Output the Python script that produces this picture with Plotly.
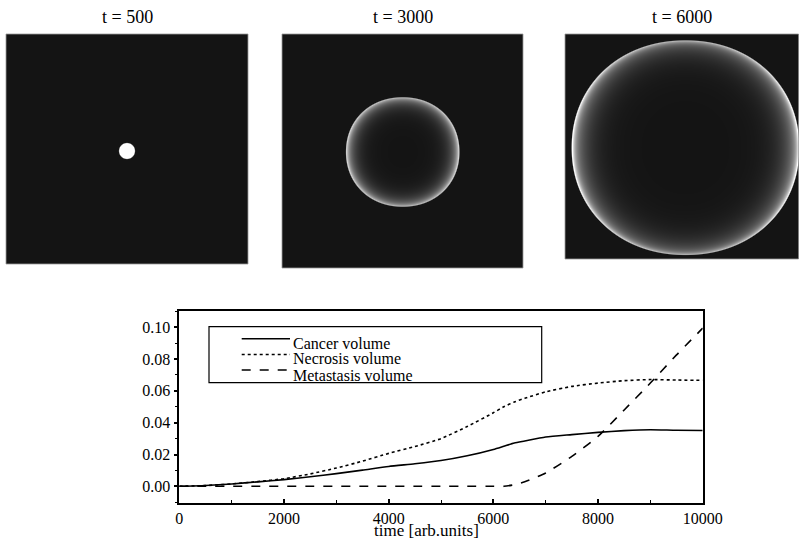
import numpy as np
import plotly.graph_objects as go

# ---------------- data ----------------
time = [0, 500, 1000, 1500, 2000, 2500, 3000, 3500, 4000, 4500, 5000, 5500,
        6000, 6200, 6400, 6600, 7000, 7500, 8000, 8500, 9000, 9500, 10000]
cancer = [0.0, 0.0005, 0.0015, 0.0028, 0.0042, 0.006, 0.008, 0.0102, 0.0125,
          0.0142, 0.0162, 0.0192, 0.0232, 0.0252, 0.0272, 0.0285, 0.031,
          0.0325, 0.0339, 0.035, 0.0356, 0.0352, 0.0351]
necrosis = [0.0, 0.0005, 0.0015, 0.003, 0.0048, 0.0078, 0.0115, 0.0158, 0.0207,
            0.025, 0.030, 0.0376, 0.0462, 0.050, 0.053, 0.0553, 0.0594,
            0.0628, 0.0649, 0.0664, 0.0671, 0.0668, 0.0666]
metastasis = [0.0, 0.0, 0.0, 0.0, 0.0, 0.0, 0.0, 0.0, 0.0, 0.0, 0.0, 0.0,
              0.0, 0.0, 0.001, 0.0028, 0.0084, 0.0188, 0.0314, 0.048, 0.0649,
              0.0826, 0.0994]
series_names = ["Cancer volume", "Necrosis volume", "Metastasis volume"]
x_ticks = [0, 2000, 4000, 6000, 8000, 10000]
y_ticks = [0.0, 0.02, 0.04, 0.06, 0.08, 0.10]
panel_titles = ["t = 500", "t = 3000", "t = 6000"]

# image panels: (left, top, width, height) in px, and tumour shape params
panel_boxes = [(6, 34, 242, 230), (282, 34, 241, 234), (565, 34, 234, 225)]
# cx, cy, rx, ry, superellipse p, edge width, glow width, glow amp, peak L/R, peak T/B
tumour_params = [
    (120, 116, 8, 8, 2.0, 100.0, 100.0, 1.0, 1.0, 1.0),
    (119.7, 117, 56.7, 54.7, 2.1, 0.03, 0.13, 0.72, 0.98, 0.8),
    (119.5, 112.7, 113.8, 107.3, 2.1, 0.02, 0.11, 0.55, 1.2, 0.78),
]

W_FIG, H_FIG = 799, 539
FONT = "Times New Roman, Liberation Serif, serif"


def tumour_image(w, h, cx, cy, rx, ry, p, ew, gw, ga, plr, ptb):
    ys = np.arange(h) + 0.5
    xs = np.arange(w) + 0.5
    xx, yy = np.meshgrid(xs, ys)
    dx = (xx - cx) / rx
    dy = (yy - cy) / ry
    rn = (np.abs(dx) ** p + np.abs(dy) ** p) ** (1.0 / p)
    th = np.arctan2(dy, dx)
    peak = ptb + (plr - ptb) * np.cos(th) ** 2
    d = np.clip(1 - rn, 0, None)
    inten = peak * (ga * np.exp(-d / gw) + (1 - ga) * np.exp(-d / ew))
    alpha = np.clip((1 - rn) * rx / 1.2 + 0.5, 0, 1)
    z = np.clip(inten * alpha, 0, 1)
    return np.round(z, 3), xs, ys


fig = go.Figure()
layout_axes = {}
px = lambda v: v / W_FIG
py = lambda v: 1 - v / H_FIG
for i, ((L, T, w, h), prm) in enumerate(zip(panel_boxes, tumour_params)):
    k = i + 2
    z, xs, ys = tumour_image(w, h, *prm)
    fig.add_trace(go.Heatmap(z=z, x=xs, y=ys, xaxis=f"x{k}", yaxis=f"y{k}",
                             colorscale=[[0, "#141414"], [1, "#ffffff"]],
                             zmin=0, zmax=1, showscale=False, zsmooth="best",
                             hoverinfo="skip"))
    layout_axes[f"xaxis{k}"] = dict(domain=[L / W_FIG, min(1, (L + w) / W_FIG)],
                                    range=[0, w], visible=False, automargin=False,
                                    anchor=f"y{k}", fixedrange=True)
    layout_axes[f"yaxis{k}"] = dict(domain=[1 - (T + h) / H_FIG, 1 - T / H_FIG],
                                    range=[h, 0], visible=False, automargin=False,
                                    anchor=f"x{k}", fixedrange=True)
    fig.add_shape(type="rect", xref="paper", yref="paper", x0=px(L), x1=px(min(L + w, 798.5)),
                  y0=py(T + h), y1=py(T), line=dict(color="#9a9a9a", width=0.8))
    fig.add_annotation(x=(L + w / 2) / W_FIG, y=1 - 17 / H_FIG, xref="paper",
                       yref="paper", text=panel_titles[i], showarrow=False,
                       font=dict(family=FONT, size=18, color="black"),
                       xanchor="center", yanchor="middle")

dashes = ["solid", "dot", "dash"]
for name, vals, dsh in zip(series_names, [cancer, necrosis, metastasis], dashes):
    fig.add_trace(go.Scatter(x=time, y=vals, mode="lines", name=name,
                             line=dict(color="black", width=1.6, dash=dsh,
                                       shape="spline", smoothing=0.6),
                             showlegend=False))

# manual legend box
fig.add_shape(type="rect", xref="paper", yref="paper", x0=px(209), x1=px(541.7),
              y0=py(382.7), y1=py(326.7), line=dict(color="black", width=1.2))
leg_line_y = [338.7, 354.5, 370]
leg_text_y = [343, 358.5, 375.5]
for name, dsh, ly, ty in zip(series_names, dashes, leg_line_y, leg_text_y):
    fig.add_shape(type="line", xref="paper", yref="paper", x0=px(241.7),
                  x1=px(290), y0=py(ly), y1=py(ly),
                  line=dict(color="black", width=1.6, dash=dsh))
    fig.add_annotation(x=px(291), y=py(ty), xref="paper", yref="paper",
                       text=name, showarrow=False, xanchor="left",
                       yanchor="middle",
                       font=dict(family=FONT, size=16, color="black"))

fig.add_annotation(x=px(426.5), y=py(519), xref="paper", yref="paper",
                   text="time [arb.units]", showarrow=False, xanchor="center",
                   yanchor="top", font=dict(family=FONT, size=17, color="black"))

fig.update_layout(
    width=W_FIG, height=H_FIG, margin=dict(l=0, r=0, t=0, b=0, autoexpand=False),
    paper_bgcolor="white", plot_bgcolor="white",
    xaxis=dict(domain=[179.3 / W_FIG, 702.7 / W_FIG], range=[0, 10000],
               tickvals=x_ticks, ticktext=[str(v) for v in x_ticks],
               showgrid=False, zeroline=False, showline=True, mirror=True,
               linecolor="black", linewidth=1.6, ticks="inside", ticklen=4,
               tickwidth=1.5, tickcolor="black", automargin=False,
               minor=dict(dtick=1000, ticks="inside", ticklen=3,
                          tickcolor="black", tickwidth=1.2),
               tickfont=dict(family=FONT, size=16, color="black"),
               anchor="y", fixedrange=True),
    yaxis=dict(domain=[1 - 502.7 / H_FIG, 1 - 311 / H_FIG],
               range=[-0.0103, 0.1102], tickvals=y_ticks,
               ticktext=[f"{v:.2f}" for v in y_ticks],
               showgrid=False, zeroline=False, showline=True, mirror=True,
               linecolor="black", linewidth=1.6, ticks="outside", ticklen=4,
               tickwidth=1.5, tickcolor="black", automargin=False,
               minor=dict(dtick=0.01, tick0=0, ticks="outside", ticklen=3,
                          tickcolor="black", tickwidth=1.2),
               tickfont=dict(family=FONT, size=16, color="black"),
               anchor="x", fixedrange=True),
    **layout_axes,
)

fig.write_html("out.html")
